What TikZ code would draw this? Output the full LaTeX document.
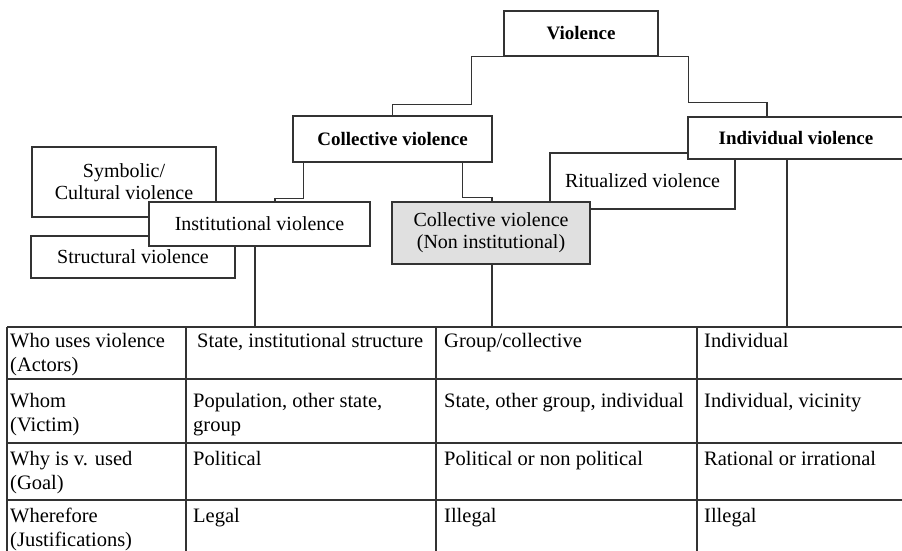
\documentclass[tikz,border=0pt]{standalone}
\usepackage{fontspec}
\setmainfont{Liberation Serif}
\begin{document}
\begin{tikzpicture}[x=1pt,y=-1pt,
  box/.style={draw=black!80,line width=1.1pt,fill=white,inner sep=0pt,align=center,
    font=\fontsize{20}{22}\selectfont},
  headbox/.style={box,line width=1.8pt,font=\fontsize{19}{22}\selectfont\bfseries},
  link/.style={draw=black!80,line width=1.1pt},
  grid/.style={draw=black!80,line width=1.1pt},
  cell/.style={anchor=base west,inner sep=0pt,align=left,font=\fontsize{20.5}{24}\selectfont}]%
% page in px, y running down; cells sit on the baseline of their last line
\useasboundingbox (0,0) rectangle (902,550);
\clip (0,0) rectangle (902,550);
\coordinate (t1) at (255,327);
\coordinate (t2) at (492,327);
\coordinate (t3) at (787,327);
\foreach \y in {327,379,443,500} \draw[grid] (7,\y) -- (906,\y);
\foreach \x in {7,186,436,697} \draw[grid] (\x,327) -- (\x,560);
\node[box,minimum width=184pt,minimum height=70pt] (symb) at (124,182) {Symbolic/\\Cultural violence};
\node[box,minimum width=204pt,minimum height=42pt] (struct) at (133,257) {Structural violence};
\node[box,line width=1.5pt,minimum width=221pt,minimum height=44pt] (inst) at (259.5,224) {Institutional violence};
\node[box,minimum width=185pt,minimum height=56pt] (ritual) at (642.5,181) {Ritualized violence};
\node[box,line width=1.5pt,fill=black!12,minimum width=198pt,minimum height=62pt] (noninst) at (491,233) {Collective violence\\(Non institutional)};
\node[headbox,line width=1.1pt,minimum width=216pt,minimum height=42pt] (indiv) at (796,138) {Individual violence};
\node[headbox,minimum width=199pt,minimum height=46pt] (coll) at (392.5,139) {Collective violence};
\node[headbox,minimum width=154pt,minimum height=45pt] (viol) at (581,33.5) {Violence};
\draw[link] (viol.south west) -- ++(-32,0) -- ++(0,48) -| (coll.north);
\draw[link] (viol.south east) -- ++(30,0) -- ++(0,46) -| ([xshift=-29pt]indiv.north);
\draw[link] ([xshift=11pt]coll.south west) -- ++(0,36) -| ([xshift=15.5pt]inst.north);
\draw[link] ([xshift=-30pt]coll.south east) -- ++(0,35) -| ([xshift=1pt]noninst.north);
\draw[link] (inst.south -| t1) -- (t1);
\draw[link] (noninst.south -| t2) -- (t2);
\draw[link] (indiv.south -| t3) -- (t3);
\node[cell] (a1) at (10,371) {Who uses violence\\(Actors)};
\node[cell] (b1) at (197,347) {State, institutional structure};
\node[cell] (c1) at (444,347) {Group/collective};
\node[cell] (d1) at (704,347) {Individual};
\node[cell] (a2) at (10,431) {Whom\\(Victim)};
\node[cell] (b2) at (193,431) {Population, other state,\\group};
\node[cell] (c2) at (444,407) {State, other group, individual};
\node[cell] (d2) at (704,407) {Individual, vicinity};
\node[cell] (a3) at (10,489) {Why is v. used\\(Goal)};
\node[cell] (b3) at (193,465) {Political};
\node[cell] (c3) at (444,465) {Political or non political};
\node[cell] (d3) at (704,465) {Rational or irrational};
\node[cell] (a4) at (10,546) {Wherefore\\(Justifications)};
\node[cell] (b4) at (193,522) {Legal};
\node[cell] (c4) at (444,522) {Illegal};
\node[cell] (d4) at (704,522) {Illegal};
\end{tikzpicture}
\end{document}
